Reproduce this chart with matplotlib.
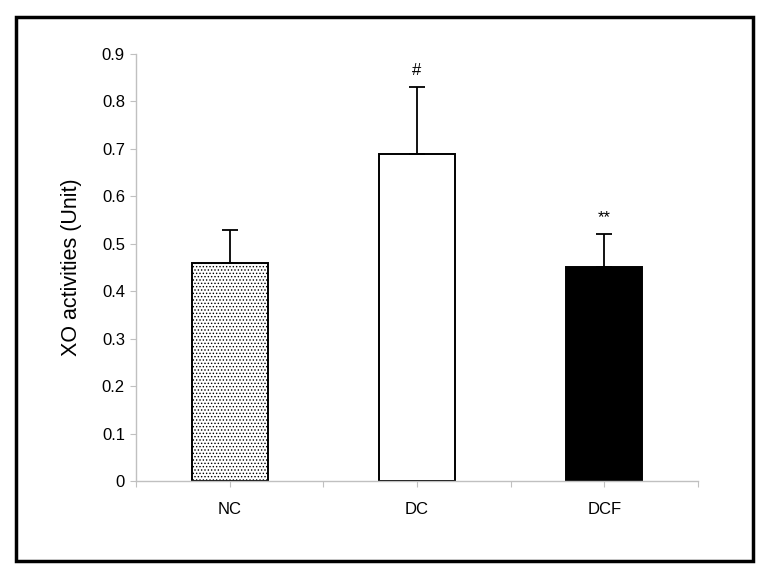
import matplotlib.pyplot as plt
from matplotlib.patches import Rectangle
import numpy as np

# data
groups = ["NC", "DC", "DCF"]
means = [0.46, 0.69, 0.45]
errors = [0.07, 0.14, 0.07]
marks = ["", "#", "**"]
yticks = [0, 0.1, 0.2, 0.3, 0.4, 0.5, 0.6, 0.7, 0.8, 0.9]

plt.rcParams['font.family'] = ['Liberation Sans', 'DejaVu Sans']
plt.rcParams['hatch.color'] = '#7a7a7a'
plt.rcParams['hatch.linewidth'] = 0.6

fig = plt.figure(figsize=(7.71, 5.77), dpi=100)
ax = fig.add_axes([0.1764, 0.1664, 0.7289, 0.74])

# outer frame around the whole figure
fig.patches.append(Rectangle((0.021, 0.028), 0.956, 0.943, transform=fig.transFigure,
                             fill=False, edgecolor='black', linewidth=2.5))

x = np.arange(len(groups)) + 0.5
faces = ['white', 'white', 'black']
hatches = ['.....', None, None]

for xi, m, e, fc, h in zip(x, means, errors, faces, hatches):
    ax.bar(xi, m, width=0.406, color=fc, edgecolor='black', linewidth=1.4,
           hatch=h, zorder=2)
    ax.errorbar(xi, m, yerr=[[0], [e]], color='black', elinewidth=1.3,
                capsize=5.5, capthick=1.3, zorder=3)

for xi, m, e, t in zip(x, means, errors, marks):
    if t:
        ax.text(xi, m + e + 0.02, t, ha='center', va='bottom', fontsize=12)

ax.set_xlim(0, 3)
ax.set_ylim(0, 0.9)
ax.set_yticks(yticks)
ax.set_yticklabels([f"{v:g}" for v in yticks], fontsize=12)

# ticks at category edges and centres, names only under the centres
xt = np.arange(0, 3.01, 0.5)
xl = []
for i in range(len(xt)):
    xl.append(groups[i // 2] if i % 2 == 1 else "")
ax.set_xticks(xt)
ax.set_xticklabels(xl, fontsize=12)
ax.tick_params(axis='x', length=4, color='#c0c0c0', direction='out', pad=11)
ax.tick_params(axis='y', length=4, color='#c0c0c0', direction='out', pad=4)

for side in ['top', 'right']:
    ax.spines[side].set_visible(False)
for side in ['left', 'bottom']:
    ax.spines[side].set_color('#c0c0c0')
    ax.spines[side].set_linewidth(1)

ax.set_ylabel("XO activities (Unit)", fontsize=15.5, labelpad=14)

plt.savefig("out.png", dpi=100)
plt.close()
